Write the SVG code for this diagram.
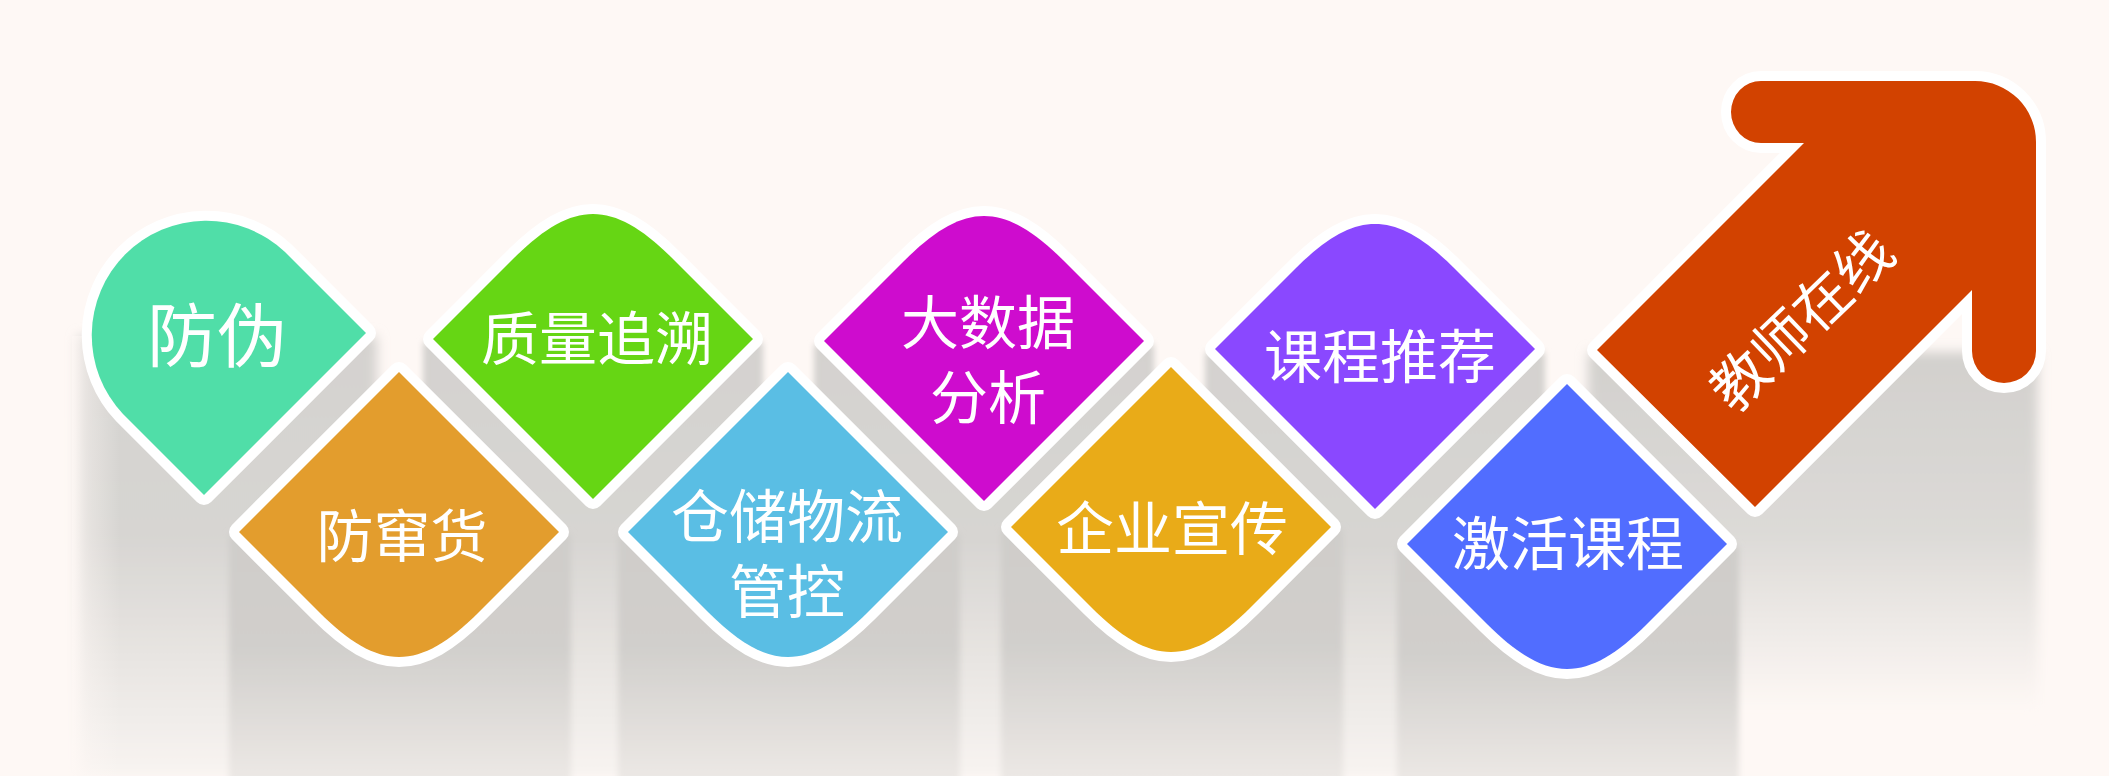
<svg xmlns="http://www.w3.org/2000/svg" xmlns:xlink="http://www.w3.org/1999/xlink" width="2109" height="776" viewBox="0 0 2109 776">
<defs>
<style>
.bd{fill:#ffffff;stroke:#ffffff;stroke-width:20;stroke-linejoin:round}
.lb{font-family:"Liberation Sans","Noto Sans CJK SC",sans-serif;fill:#ffffff;text-anchor:middle;font-size:58px}
</style>
<path id="bellB" d="M0,-160 L160,0 L80,80 C20,140 -20,140 -80,80 L-160,0 Z"/>
<path id="bellT" d="M0,160 L160,0 L80,-80 C20,-140 -20,-140 -80,-80 L-160,0 Z"/>
<path id="drop" d="M162,0 L0,162 L-81,81 A114.6,114.6 0 0 1 81,-81 Z"/>
<path id="arrow" d="M1597,350 L1804,143 L1761,143 A30,31 0 0 1 1761,81 L1975,81 A61,61 0 0 1 2036,142 L2036,351 A32,32 0 0 1 1972,351 L1972,290 L1755,507 Z"/>
<linearGradient id="gTop" x1="0" y1="0" x2="0" y2="1">
<stop offset="0" stop-color="#D4D2CF"/>
<stop offset="0.45" stop-color="#D7D5D2"/>
<stop offset="1" stop-color="#F8F4F1"/>
</linearGradient>
<linearGradient id="gTeal" x1="0" y1="0" x2="1" y2="0">
<stop offset="0" stop-color="#FEF8F5" stop-opacity="0.6"/>
<stop offset="0.3" stop-color="#FEF8F5" stop-opacity="0"/>
</linearGradient>
<linearGradient id="gBot" x1="0" y1="0" x2="0" y2="1">
<stop offset="0" stop-color="#CFCDCA"/>
<stop offset="0.45" stop-color="#D1CFCC"/>
<stop offset="1" stop-color="#EDE9E6"/>
</linearGradient>
<linearGradient id="gArr" x1="0" y1="0" x2="0" y2="1">
<stop offset="0" stop-color="#D2D0CD"/>
<stop offset="0.5" stop-color="#DCDAD7"/>
<stop offset="1" stop-color="#FEF8F5"/>
</linearGradient>
<filter id="blurS" x="-10%" y="-10%" width="120%" height="120%"><feGaussianBlur stdDeviation="3"/></filter>
<filter id="blurM" x="-10%" y="-10%" width="120%" height="120%"><feGaussianBlur stdDeviation="6"/></filter>
</defs>
<rect width="2109" height="776" fill="#FEF8F5"/>
<g id="shadows">
<rect x="78" y="336" width="299" height="440" fill="url(#gTop)" filter="url(#blurM)"/>
<rect x="72" y="336" width="160" height="440" fill="url(#gTeal)"/>
<rect x="423" y="342" width="340" height="434" fill="url(#gTop)" filter="url(#blurS)"/>
<rect x="814" y="344" width="340" height="432" fill="url(#gTop)" filter="url(#blurS)"/>
<rect x="1205" y="352" width="340" height="424" fill="url(#gTop)" filter="url(#blurS)"/>
<rect x="1588" y="352" width="450" height="360" fill="url(#gArr)" filter="url(#blurM)"/>
<rect x="229" y="534" width="342" height="250" fill="url(#gBot)" filter="url(#blurS)"/>
<rect x="618" y="534" width="342" height="250" fill="url(#gBot)" filter="url(#blurS)"/>
<rect x="1001" y="529" width="342" height="255" fill="url(#gBot)" filter="url(#blurS)"/>
<rect x="1397" y="546" width="342" height="240" fill="url(#gBot)" filter="url(#blurS)"/>
</g>
<g id="n1">
<use xlink:href="#drop" class="bd" transform="translate(204,333)"/>
<use xlink:href="#drop" fill="#50DEA8" transform="translate(204,333)"/>
<text class="lb" x="217" y="362" style="font-size:70px">防伪</text>
</g>
<g id="n2">
<use xlink:href="#bellB" class="bd" transform="translate(399,532)"/>
<use xlink:href="#bellB" fill="#E39D2D" transform="translate(399,532)"/>
<text class="lb" x="402" y="557" style="font-size:57px">防窜货</text>
</g>
<g id="n3">
<use xlink:href="#bellT" class="bd" transform="translate(593,339)"/>
<use xlink:href="#bellT" fill="#66D614" transform="translate(593,339)"/>
<text class="lb" x="597" y="360">质量追溯</text>
</g>
<g id="n4">
<use xlink:href="#bellB" class="bd" transform="translate(788,532)"/>
<use xlink:href="#bellB" fill="#5ABEE4" transform="translate(788,532)"/>
<text class="lb" x="787" y="538">仓储物流</text>
<text class="lb" x="787" y="613">管控</text>
</g>
<g id="n5">
<use xlink:href="#bellT" class="bd" transform="translate(984,341)"/>
<use xlink:href="#bellT" fill="#CE0CCE" transform="translate(984,341)"/>
<text class="lb" x="988" y="344">大数据</text>
<text class="lb" x="988" y="419">分析</text>
</g>
<g id="n6">
<use xlink:href="#bellB" class="bd" transform="translate(1171,527)"/>
<use xlink:href="#bellB" fill="#E9AB18" transform="translate(1171,527)"/>
<text class="lb" x="1172" y="550">企业宣传</text>
</g>
<g id="n7">
<use xlink:href="#bellT" class="bd" transform="translate(1375,349)"/>
<use xlink:href="#bellT" fill="#8A48FF" transform="translate(1375,349)"/>
<text class="lb" x="1380" y="378">课程推荐</text>
</g>
<g id="n8">
<use xlink:href="#bellB" class="bd" transform="translate(1567,544)"/>
<use xlink:href="#bellB" fill="#516DFF" transform="translate(1567,544)"/>
<text class="lb" x="1568" y="565">激活课程</text>
</g>
<g id="n9">
<use xlink:href="#arrow" class="bd"/>
<use xlink:href="#arrow" fill="#D24200"/>
<text class="lb" x="0" y="21.7" transform="translate(1801,320) rotate(-44)" style="font-size:57px">教师在线</text>
</g>
</svg>
